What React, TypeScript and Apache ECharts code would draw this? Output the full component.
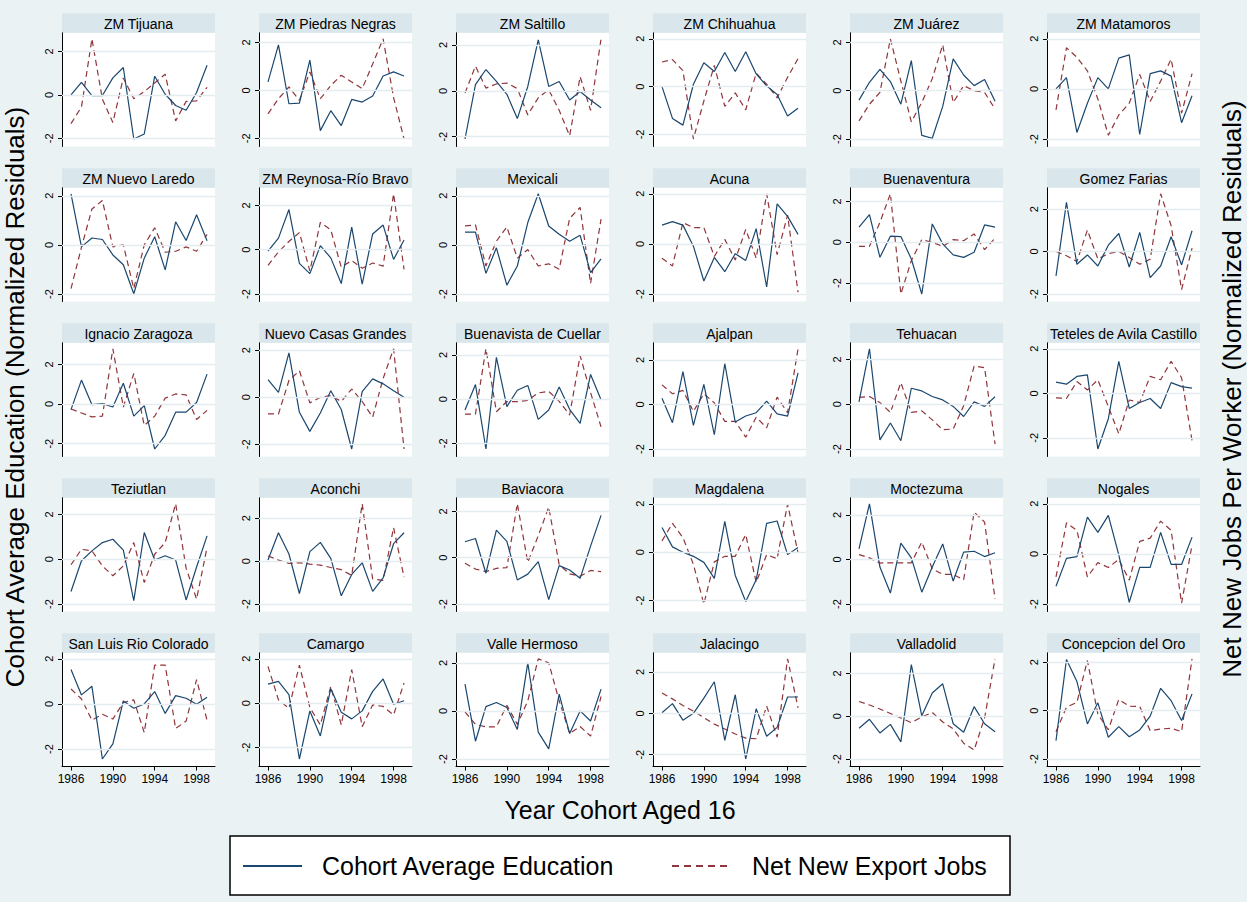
import React, { useEffect, useRef } from "react";
import * as echarts from "echarts";

// ---------------- data ----------------
const years = [1986, 1987, 1988, 1989, 1990, 1991, 1992, 1993, 1994, 1995, 1996, 1997, 1998, 1999];
const xTickYears = [1986, 1990, 1994, 1998];
const yTickValues = [-2, 0, 2];

const regions = [
  "ZM Tijuana", "ZM Piedras Negras", "ZM Saltillo", "ZM Chihuahua", "ZM Juárez", "ZM Matamoros",
  "ZM Nuevo Laredo", "ZM Reynosa-Río Bravo", "Mexicali", "Acuna", "Buenaventura", "Gomez Farias",
  "Ignacio Zaragoza", "Nuevo Casas Grandes", "Buenavista de Cuellar", "Ajalpan", "Tehuacan", "Teteles de Avila Castillo",
  "Teziutlan", "Aconchi", "Baviacora", "Magdalena", "Moctezuma", "Nogales",
  "San Luis Rio Colorado", "Camargo", "Valle Hermoso", "Jalacingo", "Valladolid", "Concepcion del Oro",
];

const eduTijuana = [0.0, 0.58, -0.03, -0.03, 0.78, 1.26, -2.03, -1.8, 0.86, 0.03, -0.49, -0.71, 0.11, 1.36];
const jobsTijuana = [-1.32, -0.56, 2.58, -0.2, -1.27, 0.78, -0.18, 0.15, 0.55, 0.95, -1.2, -0.3, -0.28, 0.35];
const eduPiedras = [0.35, 1.9, -0.56, -0.53, 1.26, -1.68, -0.85, -1.47, -0.38, -0.49, -0.24, 0.6, 0.77, 0.6];
const jobsPiedras = [-0.98, -0.35, 0.14, -0.42, 0.77, -0.35, 0.2, 0.63, 0.35, 0.07, 1.1, 2.15, -0.3, -2.03];
const eduSaltillo = [-2.1, 0.27, 0.93, 0.41, -0.15, -1.21, 0.19, 2.22, 0.19, 0.41, -0.4, -0.03, -0.4, -0.74];
const jobsSaltillo = [-0.1, 1.08, 0.12, 0.3, 0.34, 0.1, -1.05, -0.3, 0.05, -0.85, -1.96, 0.62, -0.85, 2.27];
const eduChihuahua = [0.0, -1.33, -1.61, 0.1, 1.0, 0.63, 1.43, 0.63, 1.46, 0.53, 0.03, -0.33, -1.23, -0.9];
const jobsChihuahua = [1.03, 1.13, 0.67, -2.19, -0.6, 0.89, -0.83, -0.26, -0.97, 0.56, 0.1, -0.47, 0.39, 1.17];
const eduJuarez = [-0.39, 0.35, 0.88, 0.38, -0.56, 1.25, -1.85, -1.97, -0.65, 1.32, 0.65, 0.21, 0.46, -0.44];
const jobsJuarez = [-1.25, -0.56, -0.07, 2.15, 0.4, -1.29, -0.49, 0.5, 1.9, -0.49, 0.21, 0.0, -0.07, -0.76];
const eduMatamoros = [0.0, 0.45, -1.74, -0.57, 0.45, 0.0, 1.23, 1.36, -1.82, 0.61, 0.72, 0.51, -1.35, -0.27];
const jobsMatamoros = [-0.84, 1.64, 1.26, 0.72, -0.4, -1.85, -1.04, -0.57, 0.58, -0.5, 0.31, 1.19, -0.97, 0.61];
const eduNuevoLaredo = [2.08, -0.08, 0.28, 0.22, -0.41, -0.81, -1.99, -0.54, 0.33, -1.02, 0.94, 0.18, 1.23, 0.17];
const jobsNuevoLaredo = [-1.78, -0.1, 1.46, 1.81, -0.08, 0.0, -1.78, 0.0, 0.7, -0.3, -0.26, -0.08, -0.26, 0.43];
const eduReynosa = [-0.07, 0.52, 1.81, -0.62, -1.08, 0.18, -0.37, -1.53, 1.02, -1.56, 0.71, 1.11, -0.44, 0.44];
const jobsReynosa = [-0.71, -0.1, 0.37, 0.77, -0.96, 1.23, 0.89, -0.79, -0.49, -0.84, -0.6, -0.74, 2.52, -0.89];
const eduMexicali = [0.52, 0.52, -1.16, -0.12, -1.64, -0.86, 0.91, 2.08, 0.77, 0.43, 0.15, 0.39, -1.13, -0.57];
const jobsMexicali = [0.77, 0.81, -0.86, 0.15, 0.73, -0.54, -0.19, -0.86, -0.77, -0.99, 1.08, 1.53, -1.57, 1.05];
const eduAcuna = [0.75, 0.89, 0.75, -0.09, -1.48, -0.54, -1.11, -0.39, -0.66, 0.61, -1.72, 1.6, 1.1, 0.38];
const jobsAcuna = [-0.57, -0.88, 0.85, 0.65, 0.65, -0.5, 0.18, -0.64, 0.58, -0.57, 2.0, -0.43, 1.15, -1.93];
const eduBuenaventura = [0.74, 1.36, -0.74, 0.3, 0.28, -0.82, -2.54, 0.9, -0.08, -0.62, -0.74, -0.49, 0.85, 0.74];
const jobsBuenaventura = [-0.2, -0.2, 0.98, 2.38, -2.54, -0.9, 0.13, 0.0, -0.2, 0.13, 0.08, 0.41, -0.36, 0.2];
const eduGomezFarias = [-1.15, 2.32, -0.6, -0.16, -0.68, 0.3, 0.85, -0.73, 0.9, -1.23, -0.68, 0.7, -0.63, 0.98];
const jobsGomezFarias = [0.0, -0.2, -0.47, 1.01, -0.35, -0.1, 0.0, -0.28, -0.6, -0.36, 2.72, 1.22, -1.79, 0.16];
const eduIgnacio = [-0.28, 1.21, -0.03, 0.02, -0.15, 1.05, -0.61, -0.08, -2.27, -1.58, -0.41, -0.41, 0.08, 1.51];
const jobsIgnacio = [-0.25, -0.45, -0.65, -0.61, 2.79, -0.15, 1.54, -1.08, -0.61, 0.3, 0.51, 0.46, -0.78, -0.32];
const eduCasasGrandes = [0.75, 0.21, 1.89, -0.64, -1.45, -0.67, 0.28, -0.52, -2.2, 0.24, 0.78, 0.57, 0.28, 0.0];
const jobsCasasGrandes = [-0.71, -0.71, 0.71, 1.13, -0.24, 0.0, 0.07, -0.18, 0.35, -0.18, -0.85, 0.8, 2.06, -2.2];
const eduBuenavista = [-0.49, 0.66, -2.26, 1.89, -0.34, 0.4, 0.62, -0.92, -0.49, 0.55, -0.46, -1.1, 1.12, -0.03];
const jobsBuenavista = [-0.68, -0.68, 2.28, -0.57, -0.11, -0.11, -0.06, 0.28, 0.35, -0.1, -0.72, 1.97, 0.3, -1.26];
const eduAjalpan = [0.28, -0.82, 1.48, -0.94, 0.9, -1.36, 1.83, -0.79, -0.52, -0.37, 0.15, -0.42, -0.52, 1.42];
const jobsAjalpan = [0.88, 0.48, 0.63, -0.31, 0.48, 0.07, -0.76, -0.76, -1.47, -0.57, -1.05, 0.33, -0.37, 2.5];
const eduTehuacan = [0.1, 2.47, -1.59, -0.84, -1.63, 0.71, 0.59, 0.34, 0.19, -0.1, -0.55, 0.1, -0.1, 0.33];
const jobsTehuacan = [0.3, 0.34, 0.07, -0.37, 0.96, -0.37, -0.3, -0.7, -1.14, -1.11, -0.07, 1.7, 1.63, -1.78];
const eduTeteles = [0.5, 0.41, 0.76, 0.83, -2.5, -1.14, 1.44, -0.68, -0.41, -0.23, -0.68, 0.48, 0.3, 0.23];
const jobsTeteles = [-0.2, -0.23, 0.53, 0.15, 0.61, -0.6, -1.82, -0.3, -0.41, 0.76, 0.61, 1.44, 0.7, -2.12];
const eduTeziutlan = [-1.44, -0.07, 0.37, 0.74, 0.89, 0.4, -1.85, 1.19, -0.04, 0.15, -0.04, -1.82, -0.35, 1.04];
const jobsTeziutlan = [-0.25, 0.44, 0.37, -0.3, -0.74, -0.3, 0.74, -1.04, 0.22, 0.74, 2.47, -0.4, -1.78, 0.52];
const eduAconchi = [0.05, 1.32, 0.33, -1.51, 0.44, 0.87, 0.13, -1.62, -0.62, -0.08, -1.41, -0.78, 0.81, 1.32];
const jobsAconchi = [0.24, 0.05, -0.11, -0.08, -0.14, -0.19, -0.3, -0.4, -0.67, 2.67, -0.83, -0.9, 1.56, -0.75];
const eduBaviacora = [0.69, 0.83, -0.67, 1.19, 0.71, -0.96, -0.71, -0.17, -1.81, -0.34, -0.53, -0.89, 0.5, 1.83];
const jobsBaviacora = [-0.24, -0.49, -0.6, -0.46, -0.43, 2.33, -0.2, 0.95, 2.19, -0.3, -0.7, -0.8, -0.55, -0.6];
const eduMagdalena = [1.02, 0.22, 0.0, -0.17, -0.42, -1.08, 1.27, -0.96, -2.04, -1.14, 1.19, 1.29, -0.1, 0.19];
const jobsMagdalena = [0.47, 1.19, 0.6, -0.5, -2.14, -0.4, -0.17, -0.17, 0.73, -1.25, -0.1, -0.27, 1.99, -0.03];
const eduMoctezuma = [0.48, 2.5, -0.34, -1.51, 0.73, 0.07, -1.47, -0.34, 0.7, -0.97, 0.33, 0.37, 0.13, 0.3];
const jobsMoctezuma = [0.22, 0.07, -0.16, -0.15, -0.15, -0.15, 0.78, -0.42, -0.67, -0.67, -0.91, 2.13, 1.68, -1.77];
const eduNogales = [-1.29, -0.18, -0.11, 1.47, 0.86, 1.54, -0.04, -1.93, -0.54, -0.54, 0.86, -0.42, -0.42, 0.67];
const jobsNogales = [-0.92, 1.24, 0.94, -0.92, -0.35, -0.54, -0.22, -1.05, 0.5, 0.63, 1.31, 0.94, -1.97, 0.36];
const eduSanLuis = [1.53, 0.4, 0.78, -2.44, -1.77, 0.13, -0.19, 0.0, 0.55, -0.42, 0.37, 0.25, -0.01, 0.3];
const jobsSanLuis = [0.66, 0.22, -0.72, -0.46, -0.67, 0.06, 0.18, -1.27, 1.72, 1.72, -1.09, -0.76, 1.08, -0.72];
const eduCamargo = [0.86, 0.98, 0.38, -2.52, -0.35, -1.48, 0.65, -0.41, -0.71, -0.35, 0.53, 1.09, -0.05, 0.11];
const jobsCamargo = [1.66, 0.15, -0.23, 1.71, -0.2, -0.98, 0.75, -0.98, 1.51, -1.06, -0.08, -0.15, -0.53, 0.91];
const eduValleHermoso = [1.12, -1.26, 0.18, 0.35, 0.14, -0.77, 2.0, -0.88, -1.58, 0.7, -0.94, 0.0, -0.42, 0.91];
const jobsValleHermoso = [-0.04, -0.56, -0.66, -0.66, 0.24, -0.56, 0.42, 2.17, 2.0, 0.42, -0.94, -0.65, -1.05, 0.6];
const eduJalacingo = [0.03, 0.47, -0.33, 0.0, 0.74, 1.53, -1.31, 0.9, -2.21, 0.22, -1.11, -0.68, 0.79, 0.79];
const jobsJalacingo = [0.98, 0.7, 0.38, 0.11, -0.21, -0.52, -0.76, -1.0, -1.2, -1.23, 0.35, -1.15, 2.64, 0.27];
const eduValladolid = [-0.56, -0.14, -0.78, -0.38, -1.2, 2.42, 0.02, 1.09, 1.52, -0.35, -0.75, 0.45, -0.35, -0.72];
const jobsValladolid = [0.69, 0.53, 0.34, 0.13, -0.08, -0.3, -0.03, 0.18, -0.27, -0.59, -1.26, -1.58, -0.08, 2.69];
const eduConcepcion = [-1.24, 2.11, 1.2, -0.55, 0.32, -1.1, -0.66, -1.08, -0.8, -0.23, 0.92, 0.41, -0.41, 0.69];
const jobsConcepcion = [-0.87, 0.14, 0.34, 2.07, -0.15, -0.79, 0.46, 0.18, 0.17, -0.83, -0.76, -0.73, -0.87, 2.14];

const educationSeries = [
  eduTijuana, eduPiedras, eduSaltillo, eduChihuahua, eduJuarez, eduMatamoros,
  eduNuevoLaredo, eduReynosa, eduMexicali, eduAcuna, eduBuenaventura, eduGomezFarias,
  eduIgnacio, eduCasasGrandes, eduBuenavista, eduAjalpan, eduTehuacan, eduTeteles,
  eduTeziutlan, eduAconchi, eduBaviacora, eduMagdalena, eduMoctezuma, eduNogales,
  eduSanLuis, eduCamargo, eduValleHermoso, eduJalacingo, eduValladolid, eduConcepcion,
];
const jobsSeries = [
  jobsTijuana, jobsPiedras, jobsSaltillo, jobsChihuahua, jobsJuarez, jobsMatamoros,
  jobsNuevoLaredo, jobsReynosa, jobsMexicali, jobsAcuna, jobsBuenaventura, jobsGomezFarias,
  jobsIgnacio, jobsCasasGrandes, jobsBuenavista, jobsAjalpan, jobsTehuacan, jobsTeteles,
  jobsTeziutlan, jobsAconchi, jobsBaviacora, jobsMagdalena, jobsMoctezuma, jobsNogales,
  jobsSanLuis, jobsCamargo, jobsValleHermoso, jobsJalacingo, jobsValladolid, jobsConcepcion,
];

const EDU_NAME = "Cohort Average Education";
const JOBS_NAME = "Net New Export Jobs";

// ---------------- layout / style ----------------
const FONT = "'Liberation Sans', Arial, Helvetica, sans-serif";
const BG = "#eaf2f3";
const HEADER_FILL = "#d9e6eb";
const GRIDLINE = "#e3ecef";
const BLUE = "#1a476f";
const RED = "#90353b";
const COLS = 6;
const ROWS = 5;
const LEFT0 = 62;
const COL_PITCH = 197;
const PANEL_W = 153;
const HEADER_TOP0 = 13.3;
const HEADER_H = 19.5;
const PLOT_TOP0 = 32.8;
const PLOT_H = 113.7;
const ROW_PITCH = 155;
const X_MIN = 1985.14;
const X_MAX = 1999.76;
const PAD_TOP_PX = 6;
const PAD_BOTTOM_PX = 7.5;

function buildOption() {
  const grids: any[] = [];
  const xAxes: any[] = [];
  const yAxes: any[] = [];
  const series: any[] = [];
  const graphics: any[] = [];

  regions.forEach((name, i) => {
    const r = Math.floor(i / COLS);
    const c = i % COLS;
    const left = LEFT0 + c * COL_PITCH;
    const top = PLOT_TOP0 + r * ROW_PITCH;
    const isBottom = r === ROWS - 1;
    const edu = educationSeries[i];
    const jobs = jobsSeries[i];
    const all = edu.concat(jobs);
    const lo = Math.min(-2, ...all);
    const hi = Math.max(2, ...all);
    const ppu = (PLOT_H - PAD_TOP_PX - PAD_BOTTOM_PX) / (hi - lo);
    const yMin = lo - PAD_BOTTOM_PX / ppu;
    const yMax = hi + PAD_TOP_PX / ppu;

    grids.push({
      left, top, width: PANEL_W, height: PLOT_H,
      show: true, backgroundColor: "#ffffff", borderWidth: 0, containLabel: false,
    });
    xAxes.push({
      gridIndex: i, type: "value", min: X_MIN, max: X_MAX,
      axisLine: { show: isBottom, onZero: false, lineStyle: { color: "#000", width: 1 } },
      axisTick: { show: isBottom, customValues: xTickYears, length: 4, lineStyle: { color: "#000", width: 1 } },
      axisLabel: {
        show: isBottom, customValues: xTickYears, fontSize: 12, color: "#000",
        fontFamily: FONT, margin: 6, formatter: (v: number) => String(v),
      },
      splitLine: { show: false },
    });
    yAxes.push({
      gridIndex: i, type: "value", min: yMin, max: yMax,
      axisLine: { show: true, onZero: false, lineStyle: { color: "#000", width: 1 } },
      axisTick: { show: true, customValues: yTickValues, length: 4, lineStyle: { color: "#000", width: 1 } },
      axisLabel: {
        show: true, customValues: yTickValues, rotate: 90, fontSize: 11, color: "#000",
        fontFamily: FONT, margin: 8, formatter: (v: number) => String(Math.round(v)),
      },
      splitLine: { show: false },
    });
    series.push({
      type: "line", name: "grid", xAxisIndex: i, yAxisIndex: i, data: [], silent: true, z: 1,
      markLine: {
        silent: true, symbol: ["none", "none"], label: { show: false },
        lineStyle: { color: GRIDLINE, width: 1.3, type: "solid" },
        emphasis: { disabled: true },
        data: yTickValues.map((v) => ({ yAxis: v })),
      },
    });
    series.push({
      type: "line", name: EDU_NAME, xAxisIndex: i, yAxisIndex: i, z: 4, silent: true,
      data: years.map((yr, k) => [yr, edu[k]]), symbol: "none",
      lineStyle: { color: BLUE, width: 1.2 }, itemStyle: { color: BLUE },
    });
    series.push({
      type: "line", name: JOBS_NAME, xAxisIndex: i, yAxisIndex: i, z: 3, silent: true,
      data: years.map((yr, k) => [yr, jobs[k]]), symbol: "none",
      lineStyle: { color: RED, width: 1.2, type: [6, 4] }, itemStyle: { color: RED },
    });

    graphics.push({
      type: "rect", silent: true,
      shape: { x: left, y: HEADER_TOP0 + r * ROW_PITCH, width: PANEL_W, height: HEADER_H },
      style: { fill: HEADER_FILL },
    });
    graphics.push({
      type: "text", silent: true,
      x: left + PANEL_W / 2, y: HEADER_TOP0 + r * ROW_PITCH + HEADER_H / 2 + 0.5,
      style: { text: name, fill: "#000", fontSize: 14, fontFamily: FONT, align: "center", verticalAlign: "middle" },
    });
  });

  // axis titles
  graphics.push({
    type: "text", silent: true, x: 15, y: 397, rotation: Math.PI / 2,
    style: { text: "Cohort Average Education (Normalized Residuals)", fill: "#000", fontSize: 26, fontFamily: FONT, align: "center", verticalAlign: "middle" },
  });
  graphics.push({
    type: "text", silent: true, x: 1232, y: 389, rotation: Math.PI / 2,
    style: { text: "Net New Jobs Per Worker (Normalized Residuals)", fill: "#000", fontSize: 26, fontFamily: FONT, align: "center", verticalAlign: "middle" },
  });
  graphics.push({
    type: "text", silent: true, x: 620, y: 810,
    style: { text: "Year Cohort Aged 16", fill: "#000", fontSize: 25, fontFamily: FONT, align: "center", verticalAlign: "middle" },
  });

  // legend
  graphics.push({
    type: "rect", silent: true,
    shape: { x: 230, y: 836, width: 780, height: 59 },
    style: { fill: "#ffffff", stroke: "#000", lineWidth: 1.5 },
  });
  graphics.push({
    type: "line", silent: true,
    shape: { x1: 243, y1: 866, x2: 302, y2: 866 },
    style: { stroke: BLUE, lineWidth: 2 },
  });
  graphics.push({
    type: "text", silent: true, x: 322, y: 866,
    style: { text: EDU_NAME, fill: "#000", fontSize: 25, fontFamily: FONT, align: "left", verticalAlign: "middle" },
  });
  graphics.push({
    type: "line", silent: true,
    shape: { x1: 672, y1: 866, x2: 732, y2: 866 },
    style: { stroke: RED, lineWidth: 2, lineDash: [7, 5] },
  });
  graphics.push({
    type: "text", silent: true, x: 752, y: 866,
    style: { text: JOBS_NAME, fill: "#000", fontSize: 25, fontFamily: FONT, align: "left", verticalAlign: "middle" },
  });

  return {
    animation: false,
    backgroundColor: BG,
    grid: grids,
    xAxis: xAxes,
    yAxis: yAxes,
    series,
    graphic: { elements: graphics },
  };
}

export default function App() {
  const ref = useRef<HTMLDivElement>(null);
  useEffect(() => {
    if (!ref.current) return;
    const chart = echarts.init(ref.current, undefined, { renderer: "svg", width: 1247, height: 902 });
    chart.setOption(buildOption());
    return () => chart.dispose();
  }, []);
  return (
    <div
      ref={ref}
      style={{ position: "fixed", left: 0, top: 0, width: 1247, height: 902, background: BG }}
    />
  );
}
